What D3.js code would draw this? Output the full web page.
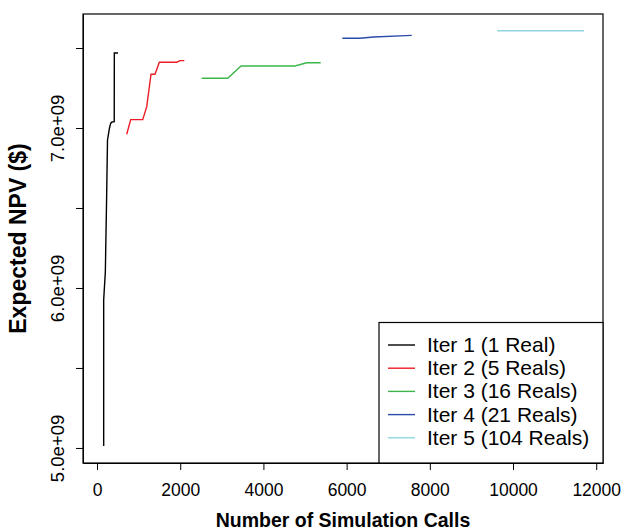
<!DOCTYPE html>
<html>
<head>
<meta charset="utf-8">
<script src="https://cdn.jsdelivr.net/npm/d3@7"></script>
<style>
  body { margin: 0; background: #fff; }
  svg { display: block; font-family: "Liberation Sans", Arial, sans-serif; }
</style>
</head>
<body>
<div id="chart"><svg width="623" height="532"></svg></div>
<script>
// data
const iter1X = [160, 160, 200, 230, 252, 300, 330, 361, 414, 416, 505];
const iter1Y = [5.0125e9, 5.925e9, 6.10e9, 6.55e9, 6.925e9, 7.0e9, 7.03e9, 7.0375e9, 7.04e9, 7.469e9, 7.469e9];
const iter2X = [714, 810, 1099, 1195, 1298, 1394, 1498, 1916, 1995, 2099];
const iter2Y = [6.961e9, 7.052e9, 7.052e9, 7.133e9, 7.336e9, 7.336e9, 7.411e9, 7.411e9, 7.421e9, 7.421e9];
const iter3X = [2517, 3142, 3462, 4760, 5041, 5377];
const iter3Y = [7.311e9, 7.311e9, 7.3875e9, 7.3875e9, 7.408e9, 7.408e9];
const iter4X = [5897, 6322, 6642, 7565];
const iter4Y = [7.5606e9, 7.5606e9, 7.569e9, 7.579e9];
const iter5X = [9623, 11707];
const iter5Y = [7.608e9, 7.608e9];

const seriesNames = ["Iter 1 (1 Real)", "Iter 2 (5 Reals)", "Iter 3 (16 Reals)", "Iter 4 (21 Reals)", "Iter 5 (104 Reals)"];
const seriesColors = ["#000000", "#ee1c25", "#3cb64a", "#2b4ba8", "#8fd6e1"];

const xTicks = [0, 2000, 4000, 6000, 8000, 10000, 12000];
const yTicks = [5.0e9, 5.5e9, 6.0e9, 6.5e9, 7.0e9, 7.5e9];
const yTickLabels = ["5.0e+09", "", "6.0e+09", "", "7.0e+09", ""];

const svg = d3.select("#chart svg");
const plotLeft = 83, plotRight = 603, plotTop = 14, plotBottom = 463;

const x = d3.scaleLinear().domain([-337, 12163]).range([plotLeft, plotRight]);
const y = d3.scaleLinear().domain([4.906e9, 7.7125e9]).range([plotBottom, plotTop]);

// lines
const allX = [iter1X, iter2X, iter3X, iter4X, iter5X];
const allY = [iter1Y, iter2Y, iter3Y, iter4Y, iter5Y];
const line = d3.line().x(d => x(d[0])).y(d => y(d[1]));
for (let i = 0; i < allX.length; i++) {
    let pts = allX[i].map((v, j) => [v, allY[i][j]]);
    svg.append("path")
        .attr("d", line(pts))
        .attr("fill", "none")
        .attr("stroke", seriesColors[i])
        .attr("stroke-width", 1.4);
}

// x axis
const xAxis = svg.append("g")
    .attr("transform", `translate(0,${plotBottom})`)
    .call(d3.axisBottom(x).tickValues(xTicks).tickSize(7).tickSizeOuter(0).tickFormat(d3.format("d")));
xAxis.select(".domain").attr("stroke-width", 1);
xAxis.selectAll(".tick line").attr("stroke-width", 1);
xAxis.selectAll("text")
    .attr("y", 33).attr("dy", 0)
    .attr("font-size", 17.5)
    .attr("fill", "#000")
    .attr("font-family", null);

// y axis
const yAxis = svg.append("g")
    .attr("transform", `translate(${plotLeft},0)`)
    .call(d3.axisLeft(y).tickValues(yTicks).tickSize(7).tickSizeOuter(0)
        .tickFormat((d, i) => yTickLabels[i]));
yAxis.select(".domain").attr("stroke-width", 1);
yAxis.selectAll(".tick line").attr("stroke-width", 1);
yAxis.selectAll("text")
    .attr("x", 0).attr("dy", 0)
    .attr("text-anchor", "middle")
    .attr("font-size", 18.5)
    .attr("fill", "#000")
    .attr("font-family", null)
    .attr("transform", "translate(-19,0) rotate(-90)");

// box
svg.append("rect")
    .attr("x", plotLeft).attr("y", plotTop)
    .attr("width", plotRight - plotLeft).attr("height", plotBottom - plotTop)
    .attr("fill", "none").attr("stroke", "#000").attr("stroke-width", 1.2);

// axis titles
svg.append("text")
    .attr("x", (plotLeft + plotRight) / 2)
    .attr("y", 527)
    .attr("text-anchor", "middle")
    .attr("font-size", 19.5)
    .attr("font-weight", "bold")
    .text("Number of Simulation Calls");

svg.append("text")
    .attr("transform", `translate(26,${(plotTop + plotBottom) / 2}) rotate(-90)`)
    .attr("text-anchor", "middle")
    .attr("font-size", 23)
    .attr("font-weight", "bold")
    .text("Expected NPV ($)");

// legend
const legend = svg.append("g");
legend.append("rect")
    .attr("x", 379).attr("y", 322.5)
    .attr("width", plotRight - 379).attr("height", plotBottom - 322.5)
    .attr("fill", "#fff").attr("stroke", "#000").attr("stroke-width", 1.2);
for (let i = 0; i < seriesNames.length; i++) {
    let cy = 345 + i * 23.2;
    legend.append("line")
        .attr("x1", 388).attr("x2", 415)
        .attr("y1", cy).attr("y2", cy)
        .attr("stroke", seriesColors[i])
        .attr("stroke-width", 1.4);
    legend.append("text")
        .attr("x", 427)
        .attr("y", cy + 7)
        .attr("font-size", 21)
        .text(seriesNames[i]);
}
</script>
</body>
</html>
